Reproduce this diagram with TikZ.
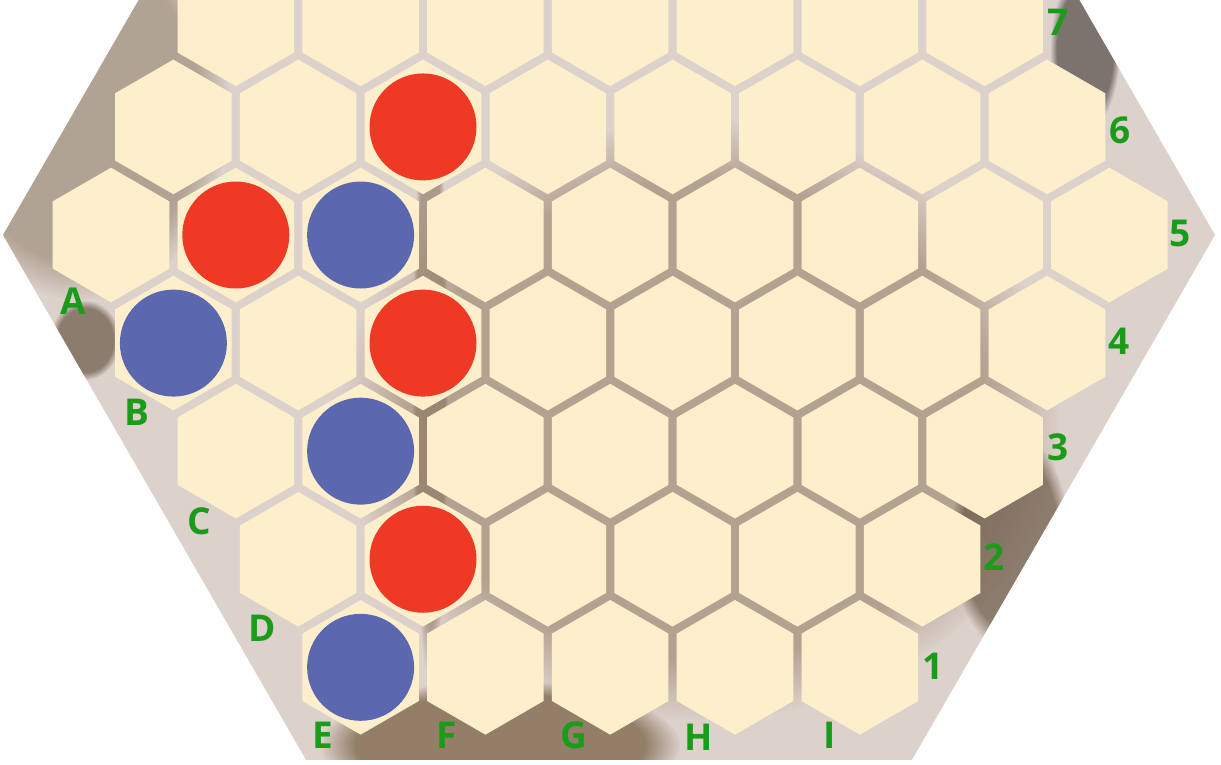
\documentclass[tikz,border=0pt]{standalone}
\usepackage{fontspec}
\setmainfont{Open Sans}
\usetikzlibrary{shapes.geometric,fadings}
\definecolor{hexcol}{HTML}{FEEFCC}
\definecolor{redp}{HTML}{EE3A24}
\definecolor{bluep}{HTML}{5B68B0}
\definecolor{lab}{HTML}{1A9C1A}
\definecolor{marble}{HTML}{DDD1CC}
\definecolor{tan}{HTML}{AD9E8D}
\definecolor{brownA}{HTML}{8B765D}
\definecolor{brownB}{HTML}{6A5846}
\definecolor{brownC}{HTML}{9A846B}
\definecolor{dark}{HTML}{3D3530}
\tikzset{
  hexcell/.style={regular polygon, regular polygon sides=6, shape border rotate=30,
    minimum size=134.6pt, inner sep=0pt, fill=hexcol, draw=none},
  redpiece/.style={circle, minimum size=107pt, inner sep=0pt, fill=redp},
  bluepiece/.style={circle, minimum size=107pt, inner sep=0pt, fill=bluep},
  lbl/.style={text=lab, inner sep=0pt, font=\fontsize{37}{37}\selectfont\bfseries},
  soft/.style={path fading=circle with fuzzy edge 20 percent}
}
\begin{document}
\begin{tikzpicture}[x=1pt,y=-1pt]
\useasboundingbox (0,0) rectangle (1221,764);
% marble background
\path[fill=marble] (3,235) -- (306,759.8) -- (912,759.8) -- (1215,235) -- (912,-289.8) -- (306,-289.8) -- cycle;
\begin{scope}
\clip (3,235) -- (306,759.8) -- (912,759.8) -- (1215,235) -- (912,-289.8) -- (306,-289.8) -- cycle;
\fill[tan, soft, opacity=0.9] (80,110) ellipse [x radius=150, y radius=190];
\fill[brownB, soft, opacity=0.7] (85,340) ellipse [x radius=35, y radius=40];
\fill[brownC, soft, opacity=0.6] (700,420) ellipse [x radius=360, y radius=300];
\fill[brownA, soft, opacity=0.9] (500,745) ellipse [x radius=180, y radius=65];
\fill[brownB, soft, opacity=0.7] (1010,540) ellipse [x radius=60, y radius=110];
\fill[dark, soft, opacity=0.6] (1085,50) ellipse [x radius=35, y radius=80];
\fill[brownA, soft, opacity=0.6] (430,380) ellipse [x radius=18, y radius=300];
\end{scope}
% hex cells
\foreach \r in {1,...,7}{
  \pgfmathtruncatemacro\d{abs(\r-5)}
  \pgfmathtruncatemacro\n{9-\d}
  \foreach \c in {1,...,\n}{
    \pgfmathsetmacro\xx{111+\d*62.4+(\c-1)*124.8}
    \pgfmathsetmacro\yy{235+(5-\r)*108.08}
    \node[hexcell] (h-\r-\c) at (\xx,\yy) {};
  }
}
% pieces
\node[redpiece] (r1) at (h-6-3) {};
\node[redpiece] (r2) at (h-5-2) {};
\node[redpiece] (r3) at (h-4-3) {};
\node[redpiece] (r4) at (h-2-2) {};
\node[bluepiece] (b1) at (h-5-3) {};
\node[bluepiece] (b2) at (h-4-1) {};
\node[bluepiece] (b3) at (h-3-2) {};
\node[bluepiece] (b4) at (h-1-1) {};
% labels
\node[lbl] (lA) at (73,301) {A};
\node[lbl] (lB) at (137,412) {B};
\node[lbl] (lC) at (199,521) {C};
\node[lbl] (lD) at (262,628) {D};
\node[lbl] (lE) at (323,735) {E};
\node[lbl] (lF) at (447,735) {F};
\node[lbl] (lG) at (574,735) {G};
\node[lbl] (lH) at (699,737) {H};
\node[lbl] (lI) at (830,735) {I};
\node[lbl] (n1) at (933,666) {1};
\node[lbl] (n2) at (994,557) {2};
\node[lbl] (n3) at (1058,447) {3};
\node[lbl] (n4) at (1119,341) {4};
\node[lbl] (n5) at (1180,233) {5};
\node[lbl] (n6) at (1120,130) {6};
\node[lbl] (n7) at (1058,22) {7};
\end{tikzpicture}
\end{document}
